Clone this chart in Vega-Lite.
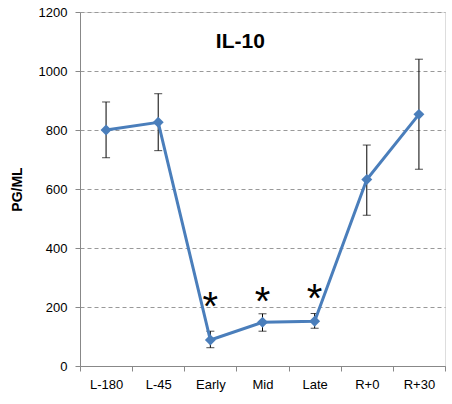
{
  "$schema": "https://vega.github.io/schema/vega-lite/v6.json",
  "width": 365,
  "height": 354,
  "autosize": {"type": "none"},
  "padding": {"left": 80, "top": 12, "right": 7, "bottom": 38},
  "background": "white",
  "data": {
    "values": [
      {"time": "L-180", "value": 800, "lower": 706, "upper": 895, "star": null},
      {"time": "L-45", "value": 826, "lower": 730, "upper": 923, "star": null},
      {"time": "Early", "value": 88, "lower": 62, "upper": 118, "star": 228},
      {"time": "Mid", "value": 148, "lower": 118, "upper": 177, "star": 243},
      {"time": "Late", "value": 152, "lower": 128, "upper": 178, "star": 253},
      {"time": "R+0", "value": 632, "lower": 511, "upper": 749, "star": null},
      {"time": "R+30", "value": 853, "lower": 667, "upper": 1040, "star": null}
    ]
  },
  "encoding": {
    "x": {
      "field": "time", "type": "ordinal", "sort": null,
      "scale": {"paddingInner": 0, "paddingOuter": 0},
      "axis": {
        "title": null, "labelAngle": 0, "labelFont": "Liberation Sans", "labelFontSize": 13,
        "labelColor": "#000", "domainColor": "#888", "tickColor": "#888", "tickSize": 5,
        "tickBand": "extent", "labelPadding": 7, "grid": false
      }
    }
  },
  "layer": [
    {
      "mark": {"type": "rule", "color": "#000", "strokeWidth": 1},
      "encoding": {
        "y": {"field": "lower", "type": "quantitative"},
        "y2": {"field": "upper"}
      }
    },
    {
      "mark": {"type": "tick", "color": "#000", "size": 8, "thickness": 1, "orient": "horizontal"},
      "encoding": {"y": {"field": "lower", "type": "quantitative"}}
    },
    {
      "mark": {"type": "tick", "color": "#000", "size": 8, "thickness": 1, "orient": "horizontal"},
      "encoding": {"y": {"field": "upper", "type": "quantitative"}}
    },
    {
      "mark": {"type": "line", "color": "#4a7ebb", "strokeWidth": 3,
               "point": {"shape": "diamond", "size": 120, "filled": true, "color": "#4a7ebb", "opacity": 1}},
      "encoding": {
        "y": {
          "field": "value", "type": "quantitative",
          "scale": {"domain": [0, 1200]},
          "axis": {
            "title": "PG/ML", "titleFont": "Liberation Sans", "titleFontSize": 14, "titleFontWeight": "bold",
            "titleColor": "#000", "titlePadding": 14, "format": "d",
            "values": [0, 200, 400, 600, 800, 1000, 1200],
            "labelFont": "Liberation Sans", "labelFontSize": 13, "labelColor": "#000",
            "domainColor": "#888", "tickColor": "#888", "tickSize": 5, "labelPadding": 8,
            "grid": true, "gridColor": "#999", "gridDash": [4, 3], "gridWidth": 1
          }
        }
      }
    },
    {
      "transform": [{"filter": "datum.star != null"}],
      "mark": {"type": "text", "text": "*", "font": "Liberation Sans", "fontSize": 40, "fontWeight": "normal", "baseline": "middle", "dy": 9, "color": "#000"},
      "encoding": {"y": {"field": "star", "type": "quantitative"}}
    },
    {
      "data": {"values": [{"label": "IL-10", "time": "Early", "v": 1100}]},
      "mark": {"type": "text", "font": "Liberation Sans", "fontSize": 21, "fontWeight": "bold", "color": "#000", "dx": 30},
      "encoding": {
        "text": {"field": "label"},
        "y": {"field": "v", "type": "quantitative"}
      }
    }
  ]
}
